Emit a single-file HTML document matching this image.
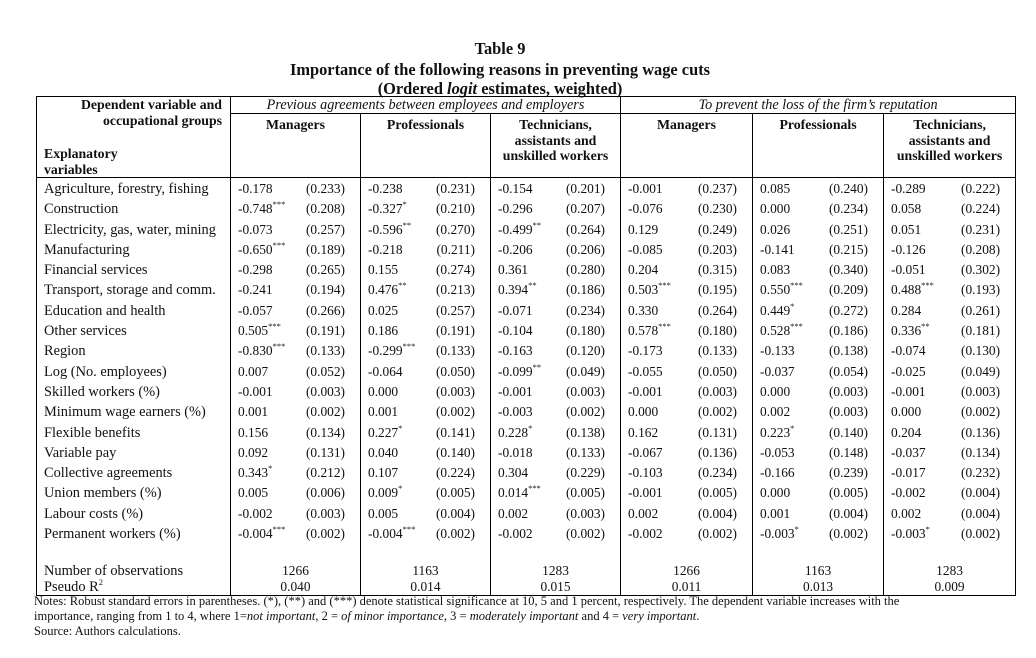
<!DOCTYPE html>
<html><head><meta charset="utf-8"><style>
body{margin:0;background:#fff;width:1036px;height:658px;overflow:hidden;font-family:"Liberation Serif",serif;color:#111;position:relative}
.t{position:absolute;left:0;width:1000px;text-align:center;font-weight:bold;font-size:16.4px}
table{position:absolute;left:36px;top:96px;border-collapse:collapse;table-layout:fixed;font-size:13.4px}
td{padding:0;white-space:nowrap;line-height:15px}
tr.d td, tr.f td{vertical-align:baseline;padding-top:3px}
.b{border-left:1px solid #000}
.v{padding-left:7px;text-align:left}
td.l{font-size:14.4px}
.s{text-align:right;padding-right:15px}
tr.d td{height:17.3px}
sup{font-size:8.5px;vertical-align:6px;line-height:0}
.h{font-weight:bold;text-align:center;vertical-align:top;padding-top:3px;line-height:15.5px;font-size:13.8px}
.notes{position:absolute;left:34px;top:594px;font-size:12.5px;line-height:15px}
</style></head><body>
<div class="t" style="top:39px">Table 9</div>
<div class="t" style="top:60px">Importance of the following reasons in preventing wage cuts</div>
<div class="t" style="top:79px">(Ordered <i>logit</i> estimates, weighted)</div>
<table style="width:979px;border:1px solid #000">
<colgroup><col style="width:194px"><col style="width:65px"><col style="width:65px"><col style="width:65px"><col style="width:65px"><col style="width:65px"><col style="width:65px"><col style="width:65px"><col style="width:67px"><col style="width:65px"><col style="width:66px"><col style="width:65px"><col style="width:67px"></colgroup>
<tr style="height:17px"><td rowspan="2" style="vertical-align:top;font-weight:bold;line-height:15.5px;font-size:13.8px"><div style="text-align:right;padding-right:8px">Dependent variable and<br>occupational groups</div><div style="padding-left:7px;margin-top:18px">Explanatory<br>variables</div></td>
<td colspan="6" class="b" style="text-align:center;font-style:italic;border-bottom:1px solid #000;font-size:14.2px">Previous agreements between employees and employers</td>
<td colspan="6" class="b" style="text-align:center;font-style:italic;border-bottom:1px solid #000;font-size:14.2px">To prevent the loss of the firm’s reputation</td></tr>
<tr style="height:64px"><td colspan="2" class="b h">Managers</td><td colspan="2" class="b h">Professionals</td><td colspan="2" class="b h">Technicians,<br>assistants and<br>unskilled workers</td><td colspan="2" class="b h">Managers</td><td colspan="2" class="b h">Professionals</td><td colspan="2" class="b h">Technicians,<br>assistants and<br>unskilled workers</td></tr>
<tr style="height:0"><td colspan="13" style="border-top:1px solid #000"></td></tr>
<tr class="d"><td class="v l">Agriculture, forestry, fishing</td><td class="b v">-0.178</td><td class="s">(0.233)</td><td class="b v">-0.238</td><td class="s">(0.231)</td><td class="b v">-0.154</td><td class="s">(0.201)</td><td class="b v">-0.001</td><td class="s">(0.237)</td><td class="b v">0.085</td><td class="s">(0.240)</td><td class="b v">-0.289</td><td class="s">(0.222)</td></tr>
<tr class="d"><td class="v l">Construction</td><td class="b v">-0.748<sup>***</sup></td><td class="s">(0.208)</td><td class="b v">-0.327<sup>*</sup></td><td class="s">(0.210)</td><td class="b v">-0.296</td><td class="s">(0.207)</td><td class="b v">-0.076</td><td class="s">(0.230)</td><td class="b v">0.000</td><td class="s">(0.234)</td><td class="b v">0.058</td><td class="s">(0.224)</td></tr>
<tr class="d"><td class="v l">Electricity, gas, water, mining</td><td class="b v">-0.073</td><td class="s">(0.257)</td><td class="b v">-0.596<sup>**</sup></td><td class="s">(0.270)</td><td class="b v">-0.499<sup>**</sup></td><td class="s">(0.264)</td><td class="b v">0.129</td><td class="s">(0.249)</td><td class="b v">0.026</td><td class="s">(0.251)</td><td class="b v">0.051</td><td class="s">(0.231)</td></tr>
<tr class="d"><td class="v l">Manufacturing</td><td class="b v">-0.650<sup>***</sup></td><td class="s">(0.189)</td><td class="b v">-0.218</td><td class="s">(0.211)</td><td class="b v">-0.206</td><td class="s">(0.206)</td><td class="b v">-0.085</td><td class="s">(0.203)</td><td class="b v">-0.141</td><td class="s">(0.215)</td><td class="b v">-0.126</td><td class="s">(0.208)</td></tr>
<tr class="d"><td class="v l">Financial services</td><td class="b v">-0.298</td><td class="s">(0.265)</td><td class="b v">0.155</td><td class="s">(0.274)</td><td class="b v">0.361</td><td class="s">(0.280)</td><td class="b v">0.204</td><td class="s">(0.315)</td><td class="b v">0.083</td><td class="s">(0.340)</td><td class="b v">-0.051</td><td class="s">(0.302)</td></tr>
<tr class="d"><td class="v l">Transport, storage and comm.</td><td class="b v">-0.241</td><td class="s">(0.194)</td><td class="b v">0.476<sup>**</sup></td><td class="s">(0.213)</td><td class="b v">0.394<sup>**</sup></td><td class="s">(0.186)</td><td class="b v">0.503<sup>***</sup></td><td class="s">(0.195)</td><td class="b v">0.550<sup>***</sup></td><td class="s">(0.209)</td><td class="b v">0.488<sup>***</sup></td><td class="s">(0.193)</td></tr>
<tr class="d"><td class="v l">Education and health</td><td class="b v">-0.057</td><td class="s">(0.266)</td><td class="b v">0.025</td><td class="s">(0.257)</td><td class="b v">-0.071</td><td class="s">(0.234)</td><td class="b v">0.330</td><td class="s">(0.264)</td><td class="b v">0.449<sup>*</sup></td><td class="s">(0.272)</td><td class="b v">0.284</td><td class="s">(0.261)</td></tr>
<tr class="d"><td class="v l">Other services</td><td class="b v">0.505<sup>***</sup></td><td class="s">(0.191)</td><td class="b v">0.186</td><td class="s">(0.191)</td><td class="b v">-0.104</td><td class="s">(0.180)</td><td class="b v">0.578<sup>***</sup></td><td class="s">(0.180)</td><td class="b v">0.528<sup>***</sup></td><td class="s">(0.186)</td><td class="b v">0.336<sup>**</sup></td><td class="s">(0.181)</td></tr>
<tr class="d"><td class="v l">Region</td><td class="b v">-0.830<sup>***</sup></td><td class="s">(0.133)</td><td class="b v">-0.299<sup>***</sup></td><td class="s">(0.133)</td><td class="b v">-0.163</td><td class="s">(0.120)</td><td class="b v">-0.173</td><td class="s">(0.133)</td><td class="b v">-0.133</td><td class="s">(0.138)</td><td class="b v">-0.074</td><td class="s">(0.130)</td></tr>
<tr class="d"><td class="v l">Log (No. employees)</td><td class="b v">0.007</td><td class="s">(0.052)</td><td class="b v">-0.064</td><td class="s">(0.050)</td><td class="b v">-0.099<sup>**</sup></td><td class="s">(0.049)</td><td class="b v">-0.055</td><td class="s">(0.050)</td><td class="b v">-0.037</td><td class="s">(0.054)</td><td class="b v">-0.025</td><td class="s">(0.049)</td></tr>
<tr class="d"><td class="v l">Skilled workers (%)</td><td class="b v">-0.001</td><td class="s">(0.003)</td><td class="b v">0.000</td><td class="s">(0.003)</td><td class="b v">-0.001</td><td class="s">(0.003)</td><td class="b v">-0.001</td><td class="s">(0.003)</td><td class="b v">0.000</td><td class="s">(0.003)</td><td class="b v">-0.001</td><td class="s">(0.003)</td></tr>
<tr class="d"><td class="v l">Minimum wage earners (%)</td><td class="b v">0.001</td><td class="s">(0.002)</td><td class="b v">0.001</td><td class="s">(0.002)</td><td class="b v">-0.003</td><td class="s">(0.002)</td><td class="b v">0.000</td><td class="s">(0.002)</td><td class="b v">0.002</td><td class="s">(0.003)</td><td class="b v">0.000</td><td class="s">(0.002)</td></tr>
<tr class="d"><td class="v l">Flexible benefits</td><td class="b v">0.156</td><td class="s">(0.134)</td><td class="b v">0.227<sup>*</sup></td><td class="s">(0.141)</td><td class="b v">0.228<sup>*</sup></td><td class="s">(0.138)</td><td class="b v">0.162</td><td class="s">(0.131)</td><td class="b v">0.223<sup>*</sup></td><td class="s">(0.140)</td><td class="b v">0.204</td><td class="s">(0.136)</td></tr>
<tr class="d"><td class="v l">Variable pay</td><td class="b v">0.092</td><td class="s">(0.131)</td><td class="b v">0.040</td><td class="s">(0.140)</td><td class="b v">-0.018</td><td class="s">(0.133)</td><td class="b v">-0.067</td><td class="s">(0.136)</td><td class="b v">-0.053</td><td class="s">(0.148)</td><td class="b v">-0.037</td><td class="s">(0.134)</td></tr>
<tr class="d"><td class="v l">Collective agreements</td><td class="b v">0.343<sup>*</sup></td><td class="s">(0.212)</td><td class="b v">0.107</td><td class="s">(0.224)</td><td class="b v">0.304</td><td class="s">(0.229)</td><td class="b v">-0.103</td><td class="s">(0.234)</td><td class="b v">-0.166</td><td class="s">(0.239)</td><td class="b v">-0.017</td><td class="s">(0.232)</td></tr>
<tr class="d"><td class="v l">Union members (%)</td><td class="b v">0.005</td><td class="s">(0.006)</td><td class="b v">0.009<sup>*</sup></td><td class="s">(0.005)</td><td class="b v">0.014<sup>***</sup></td><td class="s">(0.005)</td><td class="b v">-0.001</td><td class="s">(0.005)</td><td class="b v">0.000</td><td class="s">(0.005)</td><td class="b v">-0.002</td><td class="s">(0.004)</td></tr>
<tr class="d"><td class="v l">Labour costs (%)</td><td class="b v">-0.002</td><td class="s">(0.003)</td><td class="b v">0.005</td><td class="s">(0.004)</td><td class="b v">0.002</td><td class="s">(0.003)</td><td class="b v">0.002</td><td class="s">(0.004)</td><td class="b v">0.001</td><td class="s">(0.004)</td><td class="b v">0.002</td><td class="s">(0.004)</td></tr>
<tr class="d"><td class="v l">Permanent workers (%)</td><td class="b v">-0.004<sup>***</sup></td><td class="s">(0.002)</td><td class="b v">-0.004<sup>***</sup></td><td class="s">(0.002)</td><td class="b v">-0.002</td><td class="s">(0.002)</td><td class="b v">-0.002</td><td class="s">(0.002)</td><td class="b v">-0.003<sup>*</sup></td><td class="s">(0.002)</td><td class="b v">-0.003<sup>*</sup></td><td class="s">(0.002)</td></tr>
<tr style="height:20px"><td></td><td colspan="2" class="b"></td><td colspan="2" class="b"></td><td colspan="2" class="b"></td><td colspan="2" class="b"></td><td colspan="2" class="b"></td><td colspan="2" class="b"></td></tr>
<tr style="height:15px"><td class="v l" style="vertical-align:baseline">Number of observations</td><td colspan="2" class="b" style="text-align:center;vertical-align:baseline">1266</td><td colspan="2" class="b" style="text-align:center;vertical-align:baseline">1163</td><td colspan="2" class="b" style="text-align:center;vertical-align:baseline">1283</td><td colspan="2" class="b" style="text-align:center;vertical-align:baseline">1266</td><td colspan="2" class="b" style="text-align:center;vertical-align:baseline">1163</td><td colspan="2" class="b" style="text-align:center;vertical-align:baseline">1283</td></tr>
<tr style="height:16px"><td class="v l" style="vertical-align:baseline">Pseudo R<sup>2</sup></td><td colspan="2" class="b" style="text-align:center;vertical-align:baseline">0.040</td><td colspan="2" class="b" style="text-align:center;vertical-align:baseline">0.014</td><td colspan="2" class="b" style="text-align:center;vertical-align:baseline">0.015</td><td colspan="2" class="b" style="text-align:center;vertical-align:baseline">0.011</td><td colspan="2" class="b" style="text-align:center;vertical-align:baseline">0.013</td><td colspan="2" class="b" style="text-align:center;vertical-align:baseline">0.009</td></tr>
</table>
<div class="notes">Notes: Robust standard errors in parentheses. (*), (**) and (***) denote statistical significance at 10, 5 and 1 percent, respectively. The dependent variable increases with the<br>importance, ranging from 1 to 4, where 1=<i>not important</i>, 2 = <i>of minor importance</i>, 3 = <i>moderately important</i> and 4 = <i>very important</i>.<br>Source: Authors calculations.</div>
</body></html>
